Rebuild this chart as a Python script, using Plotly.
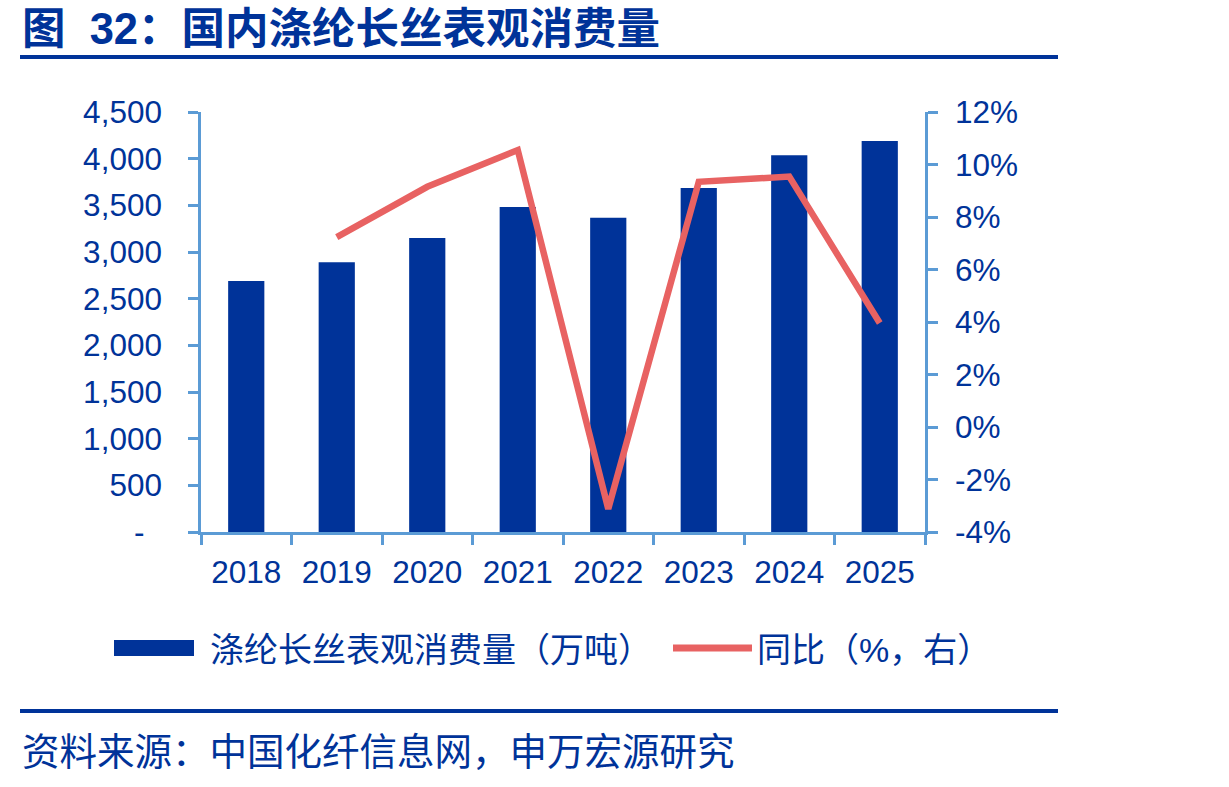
import plotly.graph_objects as go

years = ["2018", "2019", "2020", "2021", "2022", "2023", "2024", "2025"]
consumption = [2690, 2890, 3150, 3482, 3368, 3686, 4036, 4189]
yoy = [None, 7.23, 9.15, 10.55, -3.12, 9.34, 9.54, 3.96]

left_ticks = [0, 500, 1000, 1500, 2000, 2500, 3000, 3500, 4000, 4500]
left_labels = ["-\u00a0\u00a0", "500", "1,000", "1,500", "2,000", "2,500", "3,000", "3,500", "4,000", "4,500"]
right_ticks = [-4, -2, 0, 2, 4, 6, 8, 10, 12]
right_labels = ["-4%", "-2%", "0%", "2%", "4%", "6%", "8%", "10%", "12%"]

title_text = "图  32：国内涤纶长丝表观消费量"
legend_bar = "涤纶长丝表观消费量（万吨）"
legend_line = "同比（%，右）"
source_text = "资料来源：中国化纤信息网，申万宏源研究"

W, H = 1229, 787
L, R, T, B = 201, 925, 112, 532
BLUE = "#003399"
AXIS = "#5B9BD5"
RED = "#E86262"
FONT = "Liberation Sans, Arial, Noto Sans CJK SC"
CJK = "Liberation Sans, Noto Sans CJK SC"


def px(x):
    return (x - L) / (R - L)


def py(y):
    return (B - y) / (B - T)


fig = go.Figure()
fig.add_trace(go.Bar(x=years, y=consumption, marker=dict(color=BLUE, line=dict(width=0)),
                     width=0.40, name=legend_bar, showlegend=False))
fig.add_trace(go.Scatter(x=years, y=yoy, yaxis="y2", mode="lines",
                         line=dict(color=RED, width=6.5), name=legend_line, showlegend=False,
                         connectgaps=False))

axis_common = dict(showgrid=False, zeroline=False, showline=True, linecolor=AXIS, linewidth=2.5,
                   ticks="outside", ticklen=10, tickwidth=2.5, tickcolor=AXIS,
                   tickfont=dict(family=FONT, size=31.5, color=BLUE))

fig.update_layout(
    width=W, height=H,
    margin=dict(l=L, r=W - R, t=T, b=H - B, pad=0),
    paper_bgcolor="white", plot_bgcolor="white",
    bargap=0.6,
    xaxis=dict(type="category", tickson="boundaries", ticklabelstandoff=10, **axis_common),
    yaxis=dict(range=[0, 4500], tickvals=left_ticks, ticktext=left_labels,
               ticklabelstandoff=20, **axis_common),
    yaxis2=dict(range=[-4, 12], tickvals=right_ticks, ticktext=right_labels, overlaying="y",
                side="right", ticklabelstandoff=11, **axis_common),
)

shapes = [
    dict(type="line", xref="paper", yref="paper", x0=px(20), x1=px(1058), y0=py(57), y1=py(57),
         line=dict(color=BLUE, width=4)),
    dict(type="line", xref="paper", yref="paper", x0=px(20), x1=px(1058), y0=py(711), y1=py(711),
         line=dict(color=BLUE, width=4)),
    dict(type="rect", xref="paper", yref="paper", x0=px(114), x1=px(194), y0=py(640), y1=py(656),
         fillcolor=BLUE, line=dict(width=0)),
    dict(type="line", xref="paper", yref="paper", x0=px(673), x1=px(752), y0=py(648), y1=py(648),
         line=dict(color=RED, width=7)),
]
fig.update_layout(shapes=shapes)

annotations = [
    dict(text="<b>" + title_text + "</b>", x=px(20), y=py(29), xref="paper", yref="paper",
         xanchor="left", yanchor="middle", showarrow=False,
         font=dict(family=CJK, size=43.5, color=BLUE)),
    dict(text=legend_bar, x=px(208), y=py(650), xref="paper", yref="paper",
         xanchor="left", yanchor="middle", showarrow=False,
         font=dict(family=CJK, size=34, color=BLUE)),
    dict(text=legend_line, x=px(755), y=py(650), xref="paper", yref="paper",
         xanchor="left", yanchor="middle", showarrow=False,
         font=dict(family=CJK, size=34, color=BLUE)),
    dict(text=source_text, x=px(20), y=py(752), xref="paper", yref="paper",
         xanchor="left", yanchor="middle", showarrow=False,
         font=dict(family=CJK, size=37.5, color=BLUE)),
]
fig.update_layout(annotations=annotations)

fig.write_html("out.html")
